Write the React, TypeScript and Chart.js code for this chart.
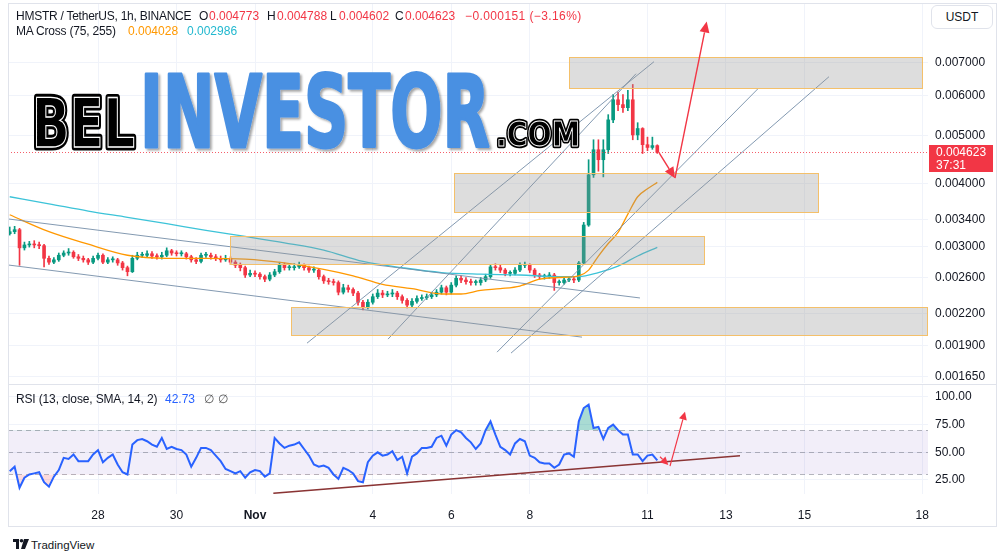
import React, { useEffect, useRef } from "react";
import { Chart, registerables } from "chart.js";

Chart.register(...registerables);

const FONT = '"Liberation Sans", Arial, Helvetica, sans-serif';
const TEXT = "#131722";
const UP = "#089981";
const DOWN = "#f23645";
const GRID = "#f0f3fa";

// ---- 3-hour candles, index 0 = 25 Oct 18:00 (HMSTR/USDT) ----
const firstOpen = 0.00318;
const closes = [
  0.00321, 0.00324, 0.00298, 0.00302, 0.00303, 0.00302, 0.00301, 0.00284, 0.00279, 0.00282,
  0.00288, 0.00291, 0.00292, 0.00286, 0.00284, 0.00282, 0.00279, 0.00284, 0.00288, 0.00279,
  0.00282, 0.00282, 0.00278, 0.00272, 0.00267, 0.00284, 0.00288, 0.00288, 0.0029, 0.00287,
  0.00286, 0.00288, 0.00294, 0.00291, 0.0029, 0.0029, 0.00286, 0.00282, 0.0028, 0.00288,
  0.00288, 0.00286, 0.00284, 0.00282, 0.00284, 0.00279, 0.00275, 0.00272, 0.00263, 0.00265,
  0.00264, 0.00261, 0.00258, 0.00263, 0.00267, 0.00275, 0.00272, 0.00272, 0.00273, 0.00275,
  0.00272, 0.00269, 0.00269, 0.00261, 0.00256, 0.00255, 0.00254, 0.00243, 0.00248, 0.00246,
  0.00242, 0.00232, 0.00227, 0.00232, 0.00238, 0.00242, 0.0024, 0.00241, 0.00242, 0.00238,
  0.00234, 0.00229, 0.00233, 0.00236, 0.00237, 0.00238, 0.0024, 0.00243, 0.00248, 0.00243,
  0.00251, 0.00259, 0.00257, 0.00255, 0.00254, 0.00254, 0.00257, 0.00261, 0.00273, 0.00272,
  0.00269, 0.00265, 0.00265, 0.00269, 0.00275, 0.00275, 0.00269, 0.00263, 0.00261, 0.00261,
  0.00263, 0.00254, 0.00254, 0.00257, 0.00258, 0.00257, 0.00278, 0.00331, 0.00417, 0.00468,
  0.00447, 0.00468, 0.00537, 0.00589, 0.00576, 0.00568, 0.00589, 0.00501, 0.00516, 0.00479,
  0.00473, 0.00477, 0.004623,
];
const highs = [
  0.00328, 0.00329, 0.00326, 0.00306, 0.00307, 0.00308, 0.00306, 0.00303, 0.00287, 0.00285,
  0.00291, 0.00294, 0.00297, 0.00294, 0.00289, 0.00287, 0.00284, 0.00287, 0.00291, 0.0029,
  0.00285, 0.00286, 0.00284, 0.0028, 0.00274, 0.00288, 0.00292, 0.00292, 0.00294, 0.00293,
  0.0029, 0.00292, 0.00298, 0.00296, 0.00294, 0.00294, 0.00292, 0.00288, 0.00285, 0.00291,
  0.00292, 0.00291, 0.00289, 0.00287, 0.00288, 0.00286, 0.00281, 0.00278, 0.00274, 0.00269,
  0.00268, 0.00266, 0.00263, 0.00266, 0.0027, 0.00279, 0.00278, 0.00276, 0.00277, 0.00279,
  0.00277, 0.00274, 0.00273, 0.00271, 0.00263, 0.00259, 0.00258, 0.00256, 0.00252, 0.00251,
  0.00248, 0.00244, 0.00234, 0.00235, 0.00241, 0.00246, 0.00245, 0.00244, 0.00246, 0.00244,
  0.0024, 0.00236, 0.00236, 0.00239, 0.0024, 0.00241, 0.00243, 0.00246, 0.00251, 0.0025,
  0.00254, 0.00262, 0.00262, 0.0026, 0.00258, 0.00257, 0.0026, 0.00264, 0.00275, 0.00277,
  0.00275, 0.00271, 0.00268, 0.00272, 0.00278, 0.00279, 0.00277, 0.00271, 0.00265, 0.00264,
  0.00266, 0.00265, 0.00257, 0.0026, 0.00261, 0.00261, 0.0028, 0.00335, 0.00447, 0.0049,
  0.0049, 0.0049, 0.0055, 0.00603, 0.0061, 0.00603, 0.00615, 0.00632, 0.0053, 0.00518,
  0.00496, 0.00496, 0.004788,
];
const lows = [
  0.00316, 0.00318, 0.00275, 0.00295, 0.00299, 0.00298, 0.00297, 0.00273, 0.00276, 0.00277,
  0.0028, 0.00286, 0.00288, 0.00284, 0.00281, 0.00279, 0.00276, 0.00277, 0.00282, 0.00277,
  0.00277, 0.00279, 0.00275, 0.00269, 0.00262, 0.00266, 0.00282, 0.00285, 0.00286, 0.00284,
  0.00283, 0.00283, 0.00286, 0.00288, 0.00287, 0.00287, 0.00283, 0.00279, 0.00277, 0.00278,
  0.00285, 0.00283, 0.00281, 0.00279, 0.0028, 0.00276, 0.00272, 0.00268, 0.0026, 0.00261,
  0.00261, 0.00258, 0.00255, 0.00256, 0.00261, 0.00265, 0.00269, 0.00269, 0.00269, 0.00271,
  0.00269, 0.00266, 0.00266, 0.00258, 0.00253, 0.00252, 0.00251, 0.0024, 0.00241, 0.00243,
  0.00239, 0.00229, 0.00224, 0.00225, 0.0023, 0.00236, 0.00237, 0.00238, 0.00238, 0.00235,
  0.00231, 0.00226, 0.00227, 0.00231, 0.00234, 0.00235, 0.00236, 0.00238, 0.00241, 0.0024,
  0.00241, 0.00249, 0.00254, 0.00252, 0.00251, 0.00251, 0.00251, 0.00255, 0.00259, 0.00269,
  0.00266, 0.00262, 0.00262, 0.00263, 0.00267, 0.00272, 0.00266, 0.0026, 0.00258, 0.00258,
  0.00259, 0.00245, 0.00251, 0.00252, 0.00255, 0.00254, 0.00255, 0.00276, 0.00329, 0.00412,
  0.00424, 0.00413, 0.0046, 0.0053, 0.0056, 0.00556, 0.0056, 0.0049, 0.0049, 0.0046,
  0.00466, 0.00469, 0.004602,
];

// MA Cross (75, 255) read at selected candle indices
const ma75Idx = [0, 8, 16, 24, 32, 40, 48, 56, 64, 70, 76, 82, 88, 92, 96, 100, 104, 108, 112, 116, 118, 120, 122, 124, 126, 128, 130, 132];
const ma75 = [0.00347, 0.00321, 0.00303, 0.00288, 0.00284, 0.00284, 0.00283, 0.00278, 0.0027, 0.00262, 0.00252, 0.00247, 0.00241, 0.00241, 0.00245, 0.00247, 0.0025, 0.00258, 0.0026, 0.00262, 0.00269, 0.00287, 0.00304, 0.0032, 0.00348, 0.00377, 0.00391, 0.004028];
const ma255Idx = [0, 8, 16, 24, 32, 40, 48, 56, 64, 72, 80, 88, 96, 104, 112, 116, 120, 124, 128, 132];
const ma255 = [0.00377, 0.00365, 0.00353, 0.00343, 0.00333, 0.00323, 0.00314, 0.00305, 0.00295, 0.0028, 0.00272, 0.00266, 0.00264, 0.00263, 0.00261, 0.00261, 0.00266, 0.00274, 0.00287, 0.002986];

// RSI (13) per candle
const rsi = [
  33, 37, 18, 27, 30, 31, 32, 23, 19, 28,
  34, 45, 44, 48, 42, 42, 42, 48, 52, 41,
  45, 48, 39, 32, 30, 57, 61, 62, 60, 57,
  55, 63, 53, 55, 53, 52, 48, 37, 45, 54,
  54, 52, 47, 42, 35, 33, 31, 33, 27, 32,
  34, 33, 28, 31, 63, 58, 54, 56, 57, 59,
  53, 47, 39, 37, 38, 36, 30, 26, 36, 34,
  31, 24, 23, 41, 47, 50, 47, 48, 51, 43,
  46, 31, 46, 49, 54, 54, 55, 63, 65, 56,
  66, 70, 68, 63, 59, 53, 58, 70, 78, 66,
  55, 52, 48, 58, 62, 60, 47, 45, 41, 40,
  40, 36, 39, 48, 49, 46, 78, 90, 93, 72,
  73, 62, 72, 75, 70, 66, 66, 48, 48, 42,
  47, 48, 42.73,
];

// axes
const priceTicks = [0.00165, 0.0019, 0.0022, 0.0026, 0.003, 0.0034, 0.004, 0.005, 0.006, 0.007];
const rsiTicks = [25, 50, 75, 100];
const dateTickIdx = [18, 34, 50, 74, 90, 106, 130, 146, 162, 186];
const dateTickLabels = ["28", "30", "Nov", "4", "6", "8", "11", "13", "15", "18"];
const X_MIN = -0.35;
const X_MAX = 187.18;
const PRICE_MIN = 0.001605;
const PRICE_MAX = 0.009194;
const RSI_MIN = 12.35;
const RSI_MAX = 110.8;
const lastPrice = 0.004623;

// drawings in data space: [index, price]
const zoneBoxes = [
  [114.06, 185.9, 0.007172, 0.006217],
  [90.62, 164.7, 0.004202, 0.003521],
  [44.9, 141.58, 0.003152, 0.002763],
  [57.28, 186.9, 0.002274, 0.001993],
];
const trendLines = [
  [-0.35, 0.003404, 128.47, 0.002366],
  [-0.35, 0.002754, 116.65, 0.001976],
  [60.6, 0.001922, 131.33, 0.007019],
  [77.11, 0.001958, 127.66, 0.00664],
  [99.33, 0.001844, 152.53, 0.006198],
  [102.18, 0.001836, 167.0, 0.00655],
];
const priceArrows = [
  [132.41, 0.004608, 135.61, 0.004107],
  [135.61, 0.004107, 142.07, 0.008441],
];
const rsiTrend = [53.73, 13.0, 148.86, 46.9];
const rsiArrows = [
  [132.55, 46.0, 134.24, 38.5],
  [134.59, 37.6, 137.65, 86.7],
];

function drawArrow(ctx: any, x1: number, y1: number, x2: number, y2: number, len: number, half: number) {
  const a = Math.atan2(y2 - y1, x2 - x1);
  const bx = x2 - len * Math.cos(a);
  const by = y2 - len * Math.sin(a);
  ctx.beginPath();
  ctx.moveTo(x1, y1);
  ctx.lineTo(bx, by);
  ctx.stroke();
  ctx.beginPath();
  ctx.moveTo(x2, y2);
  ctx.lineTo(bx + half * Math.sin(a), by - half * Math.cos(a));
  ctx.lineTo(bx - half * Math.sin(a), by + half * Math.cos(a));
  ctx.closePath();
  ctx.fill();
}

const pricePlugin = {
  id: "priceDrawings",
  afterDatasetsDraw(chart: any) {
    const { ctx, chartArea: a, scales } = chart;
    const x = scales.x;
    const y = scales.y;
    ctx.save();
    ctx.beginPath();
    ctx.rect(a.left, a.top, a.right - a.left, a.bottom - a.top);
    ctx.clip();
    ctx.strokeStyle = "rgba(118,142,168,0.9)";
    ctx.lineWidth = 1;
    for (const [i1, p1, i2, p2] of trendLines) {
      ctx.beginPath();
      ctx.moveTo(x.getPixelForValue(i1), y.getPixelForValue(p1));
      ctx.lineTo(x.getPixelForValue(i2), y.getPixelForValue(p2));
      ctx.stroke();
    }
    for (const [i1, i2, pt, pb] of zoneBoxes) {
      const x1 = Math.round(x.getPixelForValue(i1));
      const x2 = Math.round(x.getPixelForValue(i2));
      const y1 = Math.round(y.getPixelForValue(pt));
      const y2 = Math.round(y.getPixelForValue(pb));
      ctx.fillStyle = "rgba(150,150,150,0.32)";
      ctx.fillRect(x1, y1, x2 - x1, y2 - y1);
      ctx.strokeStyle = "#f4c06a";
      ctx.lineWidth = 1;
      ctx.strokeRect(x1 + 0.5, y1 + 0.5, x2 - x1, y2 - y1);
    }
    const py = Math.round(y.getPixelForValue(lastPrice)) + 0.5;
    ctx.strokeStyle = "rgba(242,54,69,0.8)";
    ctx.setLineDash([1, 2]);
    ctx.beginPath();
    ctx.moveTo(a.left, py);
    ctx.lineTo(a.right, py);
    ctx.stroke();
    ctx.setLineDash([]);
    ctx.strokeStyle = DOWN;
    ctx.fillStyle = DOWN;
    ctx.lineWidth = 1.4;
    for (const [i1, p1, i2, p2] of priceArrows) {
      drawArrow(ctx, x.getPixelForValue(i1), y.getPixelForValue(p1), x.getPixelForValue(i2), y.getPixelForValue(p2), 11, 5);
    }
    ctx.restore();
  },
  afterDraw(chart: any) {
    const { ctx, chartArea: a, scales } = chart;
    const py = Math.round(scales.y.getPixelForValue(lastPrice));
    ctx.save();
    ctx.fillStyle = DOWN;
    ctx.beginPath();
    ctx.rect(a.right + 1, py - 7, 64, 27);
    ctx.fill();
    ctx.fillStyle = "#ffffff";
    ctx.font = `12px ${FONT}`;
    ctx.textBaseline = "middle";
    ctx.textAlign = "left";
    ctx.fillText(lastPrice.toFixed(6), a.right + 8, py + 0.5);
    ctx.fillText("37:31", a.right + 8, py + 13.5);
    ctx.restore();
  },
};

const rsiPlugin = {
  id: "rsiDrawings",
  beforeDatasetsDraw(chart: any) {
    const { ctx, chartArea: a, scales } = chart;
    const y = scales.y;
    const y70 = y.getPixelForValue(70);
    const y30 = y.getPixelForValue(30);
    ctx.save();
    ctx.fillStyle = "rgba(126,87,194,0.1)";
    ctx.fillRect(a.left, y70, a.right - a.left, y30 - y70);
    ctx.strokeStyle = "rgba(120,123,134,0.55)";
    ctx.lineWidth = 1;
    ctx.setLineDash([5, 4]);
    for (const v of [70, 50, 30]) {
      const yy = Math.round(y.getPixelForValue(v)) + 0.5;
      ctx.beginPath();
      ctx.moveTo(a.left, yy);
      ctx.lineTo(a.right, yy);
      ctx.stroke();
    }
    ctx.restore();
  },
  afterDatasetsDraw(chart: any) {
    const { ctx, chartArea: a, scales } = chart;
    const x = scales.x;
    const y = scales.y;
    ctx.save();
    ctx.beginPath();
    ctx.rect(a.left, a.top, a.right - a.left, a.bottom - a.top);
    ctx.clip();
    ctx.strokeStyle = "#8a3434";
    ctx.lineWidth = 1.5;
    ctx.beginPath();
    ctx.moveTo(x.getPixelForValue(rsiTrend[0]), y.getPixelForValue(rsiTrend[1]));
    ctx.lineTo(x.getPixelForValue(rsiTrend[2]), y.getPixelForValue(rsiTrend[3]));
    ctx.stroke();
    ctx.strokeStyle = DOWN;
    ctx.fillStyle = DOWN;
    ctx.lineWidth = 1.2;
    for (const [i1, v1, i2, v2] of rsiArrows) {
      drawArrow(ctx, x.getPixelForValue(i1), y.getPixelForValue(v1), x.getPixelForValue(i2), y.getPixelForValue(v2), 8, 4);
    }
    ctx.restore();
  },
};

const tickFont = { family: FONT, size: 12 };

const fitY = (s: any) => {
  s.width = 79;
  s.paddingTop = 0;
  s.paddingBottom = 0;
};

export default function App() {
  const priceRef = useRef<HTMLCanvasElement | null>(null);
  const rsiRef = useRef<HTMLCanvasElement | null>(null);

  useEffect(() => {
    const idx = closes.map((_, i) => i);
    const opens = closes.map((_, i) => (i === 0 ? firstOpen : closes[i - 1]));
    const colors = idx.map((i) => (closes[i] >= opens[i] ? UP : DOWN));

    const priceChart = new Chart(priceRef.current as HTMLCanvasElement, {
      type: "bar",
      data: {
        datasets: [
          {
            type: "line",
            data: ma75Idx.map((x, k) => ({ x, y: ma75[k] })),
            borderColor: "#ff9800",
            borderWidth: 1.3,
            pointRadius: 0,
            cubicInterpolationMode: "monotone",
            order: 0,
          } as any,
          {
            type: "line",
            data: ma255Idx.map((x, k) => ({ x, y: ma255[k] })),
            borderColor: "#3cc3d8",
            borderWidth: 1.3,
            pointRadius: 0,
            cubicInterpolationMode: "monotone",
            order: 0,
          } as any,
          {
            type: "bar",
            data: idx.map((i) => ({ x: i, y: [opens[i], closes[i]] })),
            backgroundColor: colors,
            barThickness: 3,
            grouped: false,
            minBarLength: 1,
            order: 1,
          } as any,
          {
            type: "bar",
            data: idx.map((i) => ({ x: i, y: [lows[i], highs[i]] })),
            backgroundColor: colors,
            barThickness: 1,
            grouped: false,
            order: 2,
          } as any,
        ],
      },
      options: {
        responsive: false,
        animation: false,
        devicePixelRatio: 1,
        events: [],
        layout: { padding: { left: 8, top: 3, bottom: 1, right: 0 } },
        plugins: { legend: { display: false }, tooltip: { enabled: false } },
        scales: {
          x: {
            type: "linear",
            min: X_MIN,
            max: X_MAX,
            offset: false,
            afterBuildTicks: (s: any) => {
              s.ticks = dateTickIdx.map((v) => ({ value: v }));
            },
            afterFit: (s: any) => {
              s.height = 0;
              s.paddingLeft = 0;
              s.paddingRight = 0;
            },
            ticks: { display: false },
            grid: { color: GRID, drawTicks: false, offset: false },
            border: { display: false },
          },
          y: {
            type: "logarithmic",
            position: "right",
            min: PRICE_MIN,
            max: PRICE_MAX,
            afterBuildTicks: (s: any) => {
              s.ticks = priceTicks.map((v) => ({ value: v }));
            },
            afterFit: fitY,
            ticks: {
              callback: (v: any) => Number(v).toFixed(6),
              font: tickFont,
              color: TEXT,
              padding: 7,
              autoSkip: false,
            },
            grid: { color: GRID, drawTicks: false },
            border: { display: false },
          },
        },
      } as any,
      plugins: [pricePlugin],
    });

    const rsiChart = new Chart(rsiRef.current as HTMLCanvasElement, {
      type: "line",
      data: {
        datasets: [
          {
            data: idx.map((i) => ({ x: i, y: rsi[i] })),
            borderColor: "#2962ff",
            borderWidth: 2,
            pointRadius: 0,
            fill: { target: { value: 70 }, above: "rgba(8,153,129,0.35)", below: "rgba(0,0,0,0)" },
            order: 0,
          } as any,
          {
            data: idx.map((i) => ({ x: i, y: rsi[i] })),
            borderWidth: 0,
            borderColor: "rgba(0,0,0,0)",
            pointRadius: 0,
            fill: { target: { value: 30 }, above: "rgba(0,0,0,0)", below: "rgba(242,54,69,0.18)" },
            order: 1,
          } as any,
        ],
      },
      options: {
        responsive: false,
        animation: false,
        devicePixelRatio: 1,
        events: [],
        layout: { padding: { left: 8, top: 0, bottom: 0, right: 0 } },
        plugins: { legend: { display: false }, tooltip: { enabled: false } },
        scales: {
          x: {
            type: "linear",
            min: X_MIN,
            max: X_MAX,
            afterBuildTicks: (s: any) => {
              s.ticks = dateTickIdx.map((v) => ({ value: v }));
            },
            afterFit: (s: any) => {
              s.height = 36;
              s.paddingLeft = 0;
              s.paddingRight = 0;
            },
            ticks: {
              callback: (v: any) => {
                const k = dateTickIdx.indexOf(Number(v));
                return k >= 0 ? dateTickLabels[k] : "";
              },
              font: (c: any) => ({
                family: FONT,
                size: 12,
                weight: c.tick && c.tick.label === "Nov" ? "bold" : "normal",
              }),
              color: TEXT,
              padding: 14,
              autoSkip: false,
              maxRotation: 0,
            },
            grid: { color: GRID, drawTicks: false },
            border: { display: false },
          },
          y: {
            type: "linear",
            position: "right",
            min: RSI_MIN,
            max: RSI_MAX,
            afterBuildTicks: (s: any) => {
              s.ticks = rsiTicks.map((v) => ({ value: v }));
            },
            afterFit: fitY,
            ticks: {
              callback: (v: any) => Number(v).toFixed(2),
              font: tickFont,
              color: TEXT,
              padding: 7,
              autoSkip: false,
            },
            grid: { color: GRID, drawTicks: false },
            border: { display: false },
          },
        },
      } as any,
      plugins: [rsiPlugin],
    });

    return () => {
      priceChart.destroy();
      rsiChart.destroy();
    };
  }, []);

  const abs = (left: number, top: number, extra: any = {}) => ({
    position: "absolute" as const,
    left,
    top,
    lineHeight: "14px",
    fontSize: 12,
    whiteSpace: "nowrap" as const,
    ...extra,
  });
  const red = "#f23645";

  return (
    <div
      style={{
        position: "absolute",
        left: 0,
        top: 0,
        width: 1007,
        height: 559,
        background: "#ffffff",
        overflow: "hidden",
        fontFamily: FONT,
        color: TEXT,
      }}
    >
      <canvas ref={priceRef} width={1007} height={384} style={{ position: "absolute", left: 0, top: 0, width: 1007, height: 384 }} />
      <canvas ref={rsiRef} width={1007} height={145} style={{ position: "absolute", left: 0, top: 385, width: 1007, height: 145 }} />

      <div style={{ position: "absolute", left: 8, top: 3, width: 989, height: 524, border: "1px solid #e0e3eb", boxSizing: "border-box", pointerEvents: "none" }} />
      <div style={{ position: "absolute", left: 8, top: 384, width: 989, height: 1, background: "#e0e3eb", pointerEvents: "none" }} />

      <svg width={1007} height={200} style={{ position: "absolute", left: 0, top: 0, pointerEvents: "none" }}>
        <defs>
          <filter id="sh" x="-5%" y="-5%" width="115%" height="125%">
            <feDropShadow dx="2" dy="2" stdDeviation="1.2" floodColor="#000" floodOpacity="0.35" />
          </filter>
        </defs>
        <text x={32} y={147} fontFamily="DejaVu Sans" fontWeight="bold" fontSize={68} textLength={103} lengthAdjust="spacingAndGlyphs" fill="#000" stroke="#000" strokeWidth={7} strokeLinejoin="round">BEL</text>
        <text x={32} y={147} fontFamily="DejaVu Sans" fontWeight="bold" fontSize={68} textLength={103} lengthAdjust="spacingAndGlyphs" fill="#000" stroke="#fff" strokeWidth={1.3}>BEL</text>
        <text x={140} y={147} fontFamily="DejaVu Sans" fontWeight="bold" fontSize={100} textLength={350} lengthAdjust="spacingAndGlyphs" fill="#4a90e2" stroke="#4a90e2" strokeWidth={3} strokeLinejoin="round" filter="url(#sh)">INVESTOR</text>
        <text x={496} y={146} fontFamily="DejaVu Sans" fontWeight="bold" fontSize={33} textLength={84} lengthAdjust="spacingAndGlyphs" fill="#000" stroke="#000" strokeWidth={4.5} strokeLinejoin="round">.COM</text>
        <text x={496} y={146} fontFamily="DejaVu Sans" fontWeight="bold" fontSize={33} textLength={84} lengthAdjust="spacingAndGlyphs" fill="#000" stroke="#fff" strokeWidth={0.9}>.COM</text>
      </svg>

      <span style={abs(16, 9, { letterSpacing: "-0.25px" })}>HMSTR / TetherUS, 1h, BINANCE</span>
      <span style={abs(199, 9)}>O</span>
      <span style={abs(209, 9, { color: red })}>0.004773</span>
      <span style={abs(267, 9)}>H</span>
      <span style={abs(277, 9, { color: red })}>0.004788</span>
      <span style={abs(330, 9)}>L</span>
      <span style={abs(339, 9, { color: red })}>0.004602</span>
      <span style={abs(395, 9)}>C</span>
      <span style={abs(405, 9, { color: red })}>0.004623</span>
      <span style={abs(465, 9, { color: red, letterSpacing: "0.4px" })}>−0.000151 (−3.16%)</span>
      <span style={abs(16, 24, { letterSpacing: "-0.2px" })}>MA Cross (75, 255)</span>
      <span style={abs(128, 24, { color: "#ff9800" })}>0.004028</span>
      <span style={abs(187, 24, { color: "#22b8cf" })}>0.002986</span>

      <div style={{ position: "absolute", left: 931, top: 5, width: 62, height: 24, border: "1px solid #e0e3eb", borderRadius: 6, boxSizing: "border-box", fontSize: 12, lineHeight: "22px", textAlign: "center", background: "#fff" }}>USDT</div>

      <span style={abs(16, 392, { letterSpacing: "-0.15px" })}>RSI (13, close, SMA, 14, 2)</span>
      <span style={abs(165, 392, { color: "#2962ff" })}>42.73</span>
      <span style={abs(204, 392, { color: "#555" })}>∅</span>
      <span style={abs(218, 392, { color: "#555" })}>∅</span>

      <svg width={16} height={12} style={{ position: "absolute", left: 13, top: 539 }}>
        <rect x={0} y={0} width={6} height={3} fill="#131722" />
        <rect x={3} y={0} width={3} height={10} fill="#131722" />
        <circle cx={8.5} cy={1.8} r={1.8} fill="#131722" />
        <polygon points="11,0 16,0 12,10 8,10" fill="#131722" />
      </svg>
      <span style={abs(31, 538, { fontSize: 11.5, color: "#131722" })}>TradingView</span>
    </div>
  );
}
